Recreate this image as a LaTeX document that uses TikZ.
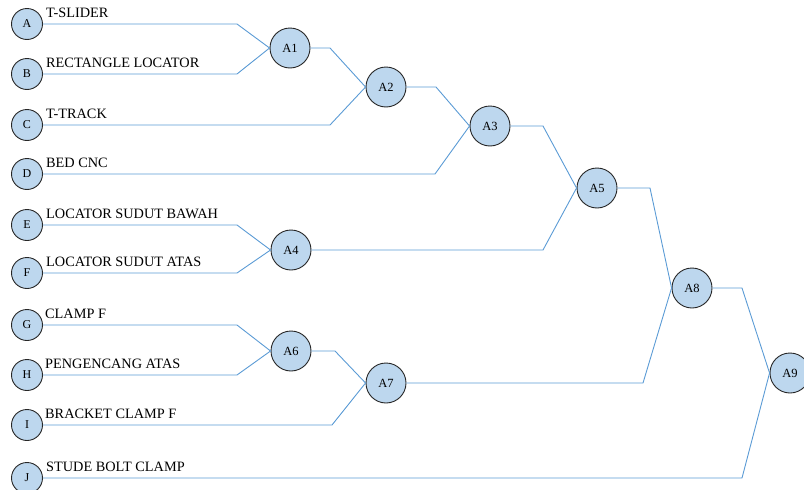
\documentclass[tikz,border=0pt]{standalone}
\usepackage{fontspec}
\setmainfont{Liberation Serif}
\definecolor{cfill}{HTML}{BDD7EE}
\definecolor{cline}{HTML}{5B9BD5}
\begin{document}
\begin{tikzpicture}[x=1pt,y=-1pt,
  leaf/.style={circle,draw=black!85,line width=0.9pt,fill=cfill,minimum size=31pt,inner sep=0pt,font=\fontsize{12}{14}\selectfont},
  asm/.style={circle,draw=black!85,line width=0.9pt,fill=cfill,minimum size=40pt,inner sep=0pt,font=\fontsize{12.5}{14}\selectfont},
  conn/.style={draw=cline,line width=0.9pt},
  lbl/.style={anchor=base west,inner sep=0pt,font=\fontsize{14.3}{16}\selectfont}]
\useasboundingbox (0,0) rectangle (804,490);
% leaf nodes
\node[leaf] (a) at (27,24) {A};
\node[leaf] (b) at (27,74) {B};
\node[leaf] (c) at (27,125) {C};
\node[leaf] (d) at (27,174) {D};
\node[leaf] (e) at (27,225) {E};
\node[leaf] (f) at (27,273) {F};
\node[leaf] (g) at (27,325) {G};
\node[leaf] (h) at (27,375) {H};
\node[leaf] (i) at (27,425) {I};
\node[leaf] (j) at (27,478) {J};
% labels
\node[lbl] (la) at (46,17) {T-SLIDER};
\node[lbl] (lb) at (46,67) {RECTANGLE LOCATOR};
\node[lbl] (lc) at (46,118) {T-TRACK};
\node[lbl] (ld) at (46,167) {BED CNC};
\node[lbl] (le) at (46,218) {LOCATOR SUDUT BAWAH};
\node[lbl] (lf) at (46,266) {LOCATOR SUDUT ATAS};
\node[lbl] (lg) at (45,318) {CLAMP F};
\node[lbl] (lh) at (45,368) {PENGENCANG ATAS};
\node[lbl] (li) at (45,418) {BRACKET CLAMP F};
\node[lbl] (lj) at (46,471) {STUDE BOLT CLAMP};
% assembly nodes
\node[asm] (a1) at (290,48) {A1};
\node[asm] (a2) at (386,87) {A2};
\node[asm] (a3) at (490,126) {A3};
\node[asm] (a4) at (291,250) {A4};
\node[asm] (a5) at (597,188) {A5};
\node[asm] (a6) at (291,351) {A6};
\node[asm] (a7) at (386,383) {A7};
\node[asm] (a8) at (692,288) {A8};
\node[asm] (a9) at (790,373) {A9};
% connectors
\draw[conn] (a.east) -- (237,24) -- (a1.west);
\draw[conn] (b.east) -- (237,74) -- (a1.west);
\draw[conn] (a1.east) -- (330,48) -- (a2.west);
\draw[conn] (c.east) -- (330,125) -- (a2.west);
\draw[conn] (a2.east) -- (436,87) -- (a3.west);
\draw[conn] (d.east) -- (435,174) -- (a3.west);
\draw[conn] (a3.east) -- (543,126) -- (a5.west);
\draw[conn] (e.east) -- (237,225) -- (a4.west);
\draw[conn] (f.east) -- (237,273) -- (a4.west);
\draw[conn] (a4.east) -- (543,250) -- (a5.west);
\draw[conn] (a5.east) -- (650,188) -- (a8.west);
\draw[conn] (g.east) -- (237,325) -- (a6.west);
\draw[conn] (h.east) -- (237,375) -- (a6.west);
\draw[conn] (a6.east) -- (335,351) -- (a7.west);
\draw[conn] (i.east) -- (332,425) -- (a7.west);
\draw[conn] (a7.east) -- (643,383) -- (a8.west);
\draw[conn] (a8.east) -- (742,288) -- (a9.west);
\draw[conn] (j.east) -- (742,478) -- (a9.west);
\end{tikzpicture}
\end{document}
